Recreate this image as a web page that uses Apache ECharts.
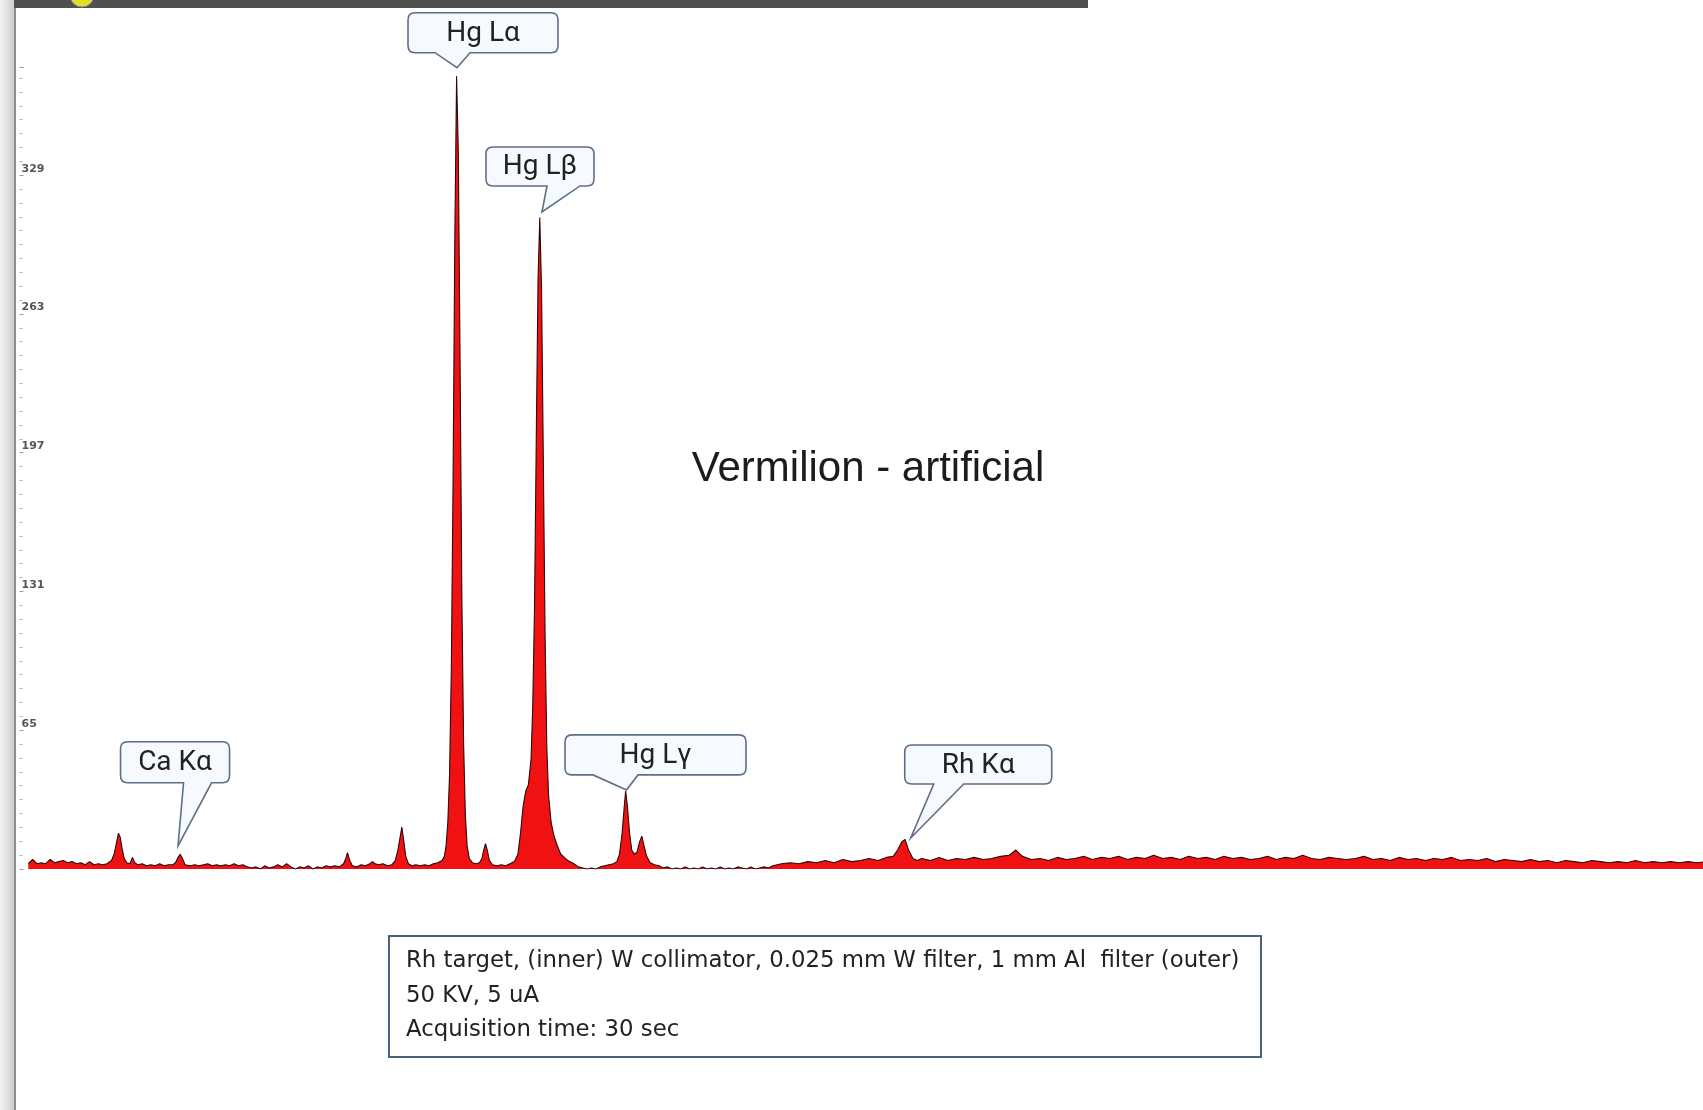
<!DOCTYPE html>
<html>
<head>
<meta charset="utf-8">
<script src="https://cdn.jsdelivr.net/npm/echarts@6/dist/echarts.min.js"></script>
<style>
html,body{margin:0;padding:0;background:#ffffff;}
#chart{width:1703px;height:1110px;}
</style>
</head>
<body>
<div id="chart"></div>
<script>
// ---------------- DATA (energy in keV, counts) ----------------
// 0.2 – 9.55 keV : S K, Ca Kα, Ni Kα, Hg Ll
const spectrumLow = [
  [0.20,2.5],[0.30,4.5],[0.40,2.5],[0.50,3],[0.60,2.5],[0.70,4.5],[0.80,3],[0.90,3.5],[1.00,4],[1.10,3],
  [1.20,3.5],[1.30,2.5],[1.40,3],[1.50,2],[1.60,3.5],[1.70,2],[1.80,2.5],[1.90,2],[2.00,2.5],
  [2.10,4],[2.16,7],[2.21,12],[2.26,17],[2.30,15],[2.34,10],[2.39,5],[2.45,3],[2.52,2.5],[2.58,5.5],
  [2.63,3],[2.70,2],[2.80,2.5],[2.90,1.5],[3.00,2],[3.10,1.5],[3.20,2.5],[3.30,1.5],[3.40,2],[3.50,2],
  [3.56,3],[3.62,5.5],[3.67,7],[3.72,5],[3.78,2],[3.90,1.5],[4.00,2],[4.10,1.5],[4.20,2],[4.30,2.5],
  [4.40,1.5],[4.50,2],[4.60,1.5],[4.70,2],[4.80,1.5],[4.90,2.5],[5.00,1.5],[5.10,2],[5.20,1],[5.30,0.5],
  [5.40,1],[5.50,0],[5.60,1.5],[5.70,0.5],[5.80,1],[5.90,2],[6.00,1],[6.10,2.5],[6.20,1],[6.30,0],
  [6.40,1],[6.50,0.5],[6.60,1.5],[6.70,0],[6.80,1],[6.90,0.5],[7.00,1.5],[7.10,1],[7.20,1.5],[7.30,1],
  [7.40,2.5],[7.45,5],[7.49,7.8],[7.54,4],[7.60,1.5],[7.70,1],[7.80,2],[7.90,1.5],[8.00,2.5],[8.06,3.5],
  [8.12,2.5],[8.20,2],[8.30,2.5],[8.40,1.5],[8.50,2],
  [8.58,4],[8.64,9],[8.69,15],[8.73,19.9],[8.77,14],[8.82,6],[8.88,2.5],[8.96,1.5],[9.05,2],[9.15,1.5],
  [9.25,2],[9.35,1.5],[9.45,2.5],[9.55,3]
];
// 9.65 – 17.3 keV : Hg Lα, Lη, Lβ, Lγ
const spectrumHgL = [
  [9.65,4],[9.70,6],[9.74,11],[9.78,22],[9.82,45],[9.86,95],[9.90,185],[9.94,300],[9.98,376],[10.02,340],
  [10.06,240],[10.10,130],[10.14,60],[10.18,26],[10.22,11],[10.27,5],[10.34,3],[10.42,2.5],[10.50,3],
  [10.56,5],[10.60,9],[10.64,12],[10.68,9],[10.73,4],[10.80,2],[10.90,1.5],[11.00,2],[11.10,1.5],[11.20,2.5],
  [11.30,3.5],[11.38,7],[11.44,17],[11.50,30],[11.56,37],[11.62,40],[11.68,52],[11.72,78],[11.76,125],[11.80,205],
  [11.84,280],[11.88,309],[11.92,275],[11.96,195],[12.00,112],[12.04,58],[12.08,35],[12.14,22],[12.20,16],[12.28,11],
  [12.36,7],[12.46,5],[12.56,3.5],[12.66,2.5],[12.76,1],[12.86,0.5],[12.96,0],[13.06,0.5],[13.16,0],[13.26,1],
  [13.36,1.5],[13.46,2],[13.56,2.5],[13.64,3.5],
  [13.70,7],[13.76,17],[13.81,30],[13.84,37],[13.88,30],[13.93,17],[13.98,9],[14.04,7],[14.10,8],[14.16,13],
  [14.21,15.6],[14.26,11],[14.32,6],[14.40,3],[14.50,2],[14.60,1.5],[14.70,0.5],[14.80,1],[14.90,0],[15.00,0.5],
  [15.10,0],[15.20,1],[15.30,0],[15.40,0.5],[15.50,0],[15.60,1],[15.70,0],[15.80,0.5],[15.90,0],[16.00,1],
  [16.10,0],[16.20,0.5],[16.30,0],[16.40,1],[16.50,0.5],[16.60,0],[16.70,1],[16.80,0],[16.90,0.5],[17.00,1],
  [17.10,0.5],[17.20,1.5],[17.30,2]
];
// 17.4 – 38.5 keV : Rh Kα, Rh Kβ and scatter background
const spectrumHigh = [
  [17.40,2.5],[17.60,3],[17.80,2.5],[18.00,3.5],[18.20,3],[18.40,4],[18.60,3],[18.80,4.5],[19.00,3.5],[19.20,4],
  [19.40,5],[19.60,4],[19.80,5.5],[19.95,6],[20.05,9],[20.15,13],[20.22,14],[20.30,9],[20.40,5],[20.50,4],
  [20.60,5],[20.80,4],[21.00,5.5],[21.20,4],[21.40,5],[21.60,4.5],[21.80,5.5],[22.00,4.5],[22.20,5],[22.40,6],
  [22.60,6.5],[22.75,9],[22.90,6],[23.10,4.5],[23.30,5],[23.50,4],[23.70,5.5],[23.90,4.5],[24.10,5],[24.30,6],
  [24.50,4.5],[24.70,5.5],[24.90,5],[25.10,6],[25.30,4.5],[25.50,5.5],[25.70,5],[25.90,6.5],[26.10,5],[26.30,5.5],
  [26.50,4.5],[26.70,6],[26.90,5],[27.10,5.5],[27.30,4.5],[27.50,6],[27.70,5],[27.90,5.5],[28.10,4.5],[28.30,5],
  [28.50,6],[28.70,4.5],[28.90,5.5],[29.10,5],[29.30,6.5],[29.50,5],[29.70,4.5],[29.90,5.5],[30.10,5],[30.30,4.5],
  [30.50,5],[30.70,6],[30.90,4.5],[31.10,5],[31.30,4],[31.50,5.5],[31.70,4.5],[31.90,5],[32.10,4],[32.30,5],
  [32.50,4.5],[32.70,5.5],[32.90,4],[33.10,4.5],[33.30,4],[33.50,5],[33.70,3.5],[33.90,4.5],[34.10,4],[34.30,3.5],
  [34.50,4.5],[34.70,3.5],[34.90,4],[35.10,3],[35.30,4],[35.50,3.5],[35.70,3],[35.90,4],[36.10,3.5],[36.30,3],
  [36.50,3.5],[36.70,3],[36.90,4],[37.10,3],[37.30,3.5],[37.50,3],[37.70,3.5],[37.90,3],[38.10,3.5],[38.30,3],[38.50,3.5]
];

const yTickStep = 65.8;
const yTickLabels = [65, 131, 197, 263, 329];

const calloutLabels = ['Ca Kα', 'Hg Lα', 'Hg Lβ', 'Hg Lγ', 'Rh Kα'];
const calloutEnergy = [3.62, 9.99, 11.93, 13.86, 20.35];
const calloutCounts = [11, 380, 311.6, 37.5, 14.7];

const titleText = 'Vermilion - artificial';
const infoLines = [
  'Rh target, (inner) W collimator, 0.025 mm W filter, 1 mm Al  filter (outer)',
  '50 KV, 5 uA',
  'Acquisition time: 30 sec'
];

// ---------------- LAYOUT (pixels, relative to each callout tip) ----------------
const calloutLayout = [
  {dx: -57.5, dy: -104, w: 109, h: 41, b1: 63, b2: 91},
  {dx: -49,   dy: -55,  w: 150, h: 40, b1: 27, b2: 62},
  {dx: -56,   dy: -65,  w: 108, h: 39, b1: 61, b2: 94},
  {dx: -61.5, dy: -55,  w: 181, h: 40, b1: 28, b2: 73},
  {dx: -6,    dy: -93,  w: 147, h: 39, b1: 29, b2: 59}
];

const spectrum = spectrumLow.concat(spectrumHgL, spectrumHigh);

const chart = echarts.init(document.getElementById('chart'), null, {renderer: 'canvas'});

const infoFont = '22.8px "DejaVu Sans", sans-serif';

const option = {
  animation: false,
  backgroundColor: '#ffffff',
  grid: {left: 19.5, right: 0, top: 67.7, bottom: 241, containLabel: false},
  xAxis: {
    type: 'value', min: 0, max: 38.44,
    show: false
  },
  yAxis: {
    type: 'value', min: 0, max: 380, interval: yTickStep,
    offset: 4,
    axisLine: {show: false},
    splitLine: {show: false},
    axisTick: {show: true, inside: true, length: 4, lineStyle: {color: '#9a9a9a', width: 1}},
    minorTick: {show: true, splitNumber: 10, length: 3, lineStyle: {color: '#b5b5b5', width: 1}},
    axisLabel: {
      inside: true, margin: 6, showMinLabel: false, showMaxLabel: false,
      fontSize: 11, fontFamily: 'DejaVu Sans', fontWeight: 'bold', color: '#555555',
      verticalAlign: 'bottom', padding: [0, 0, 1, 0],
      formatter: function (v) {
        const k = Math.round(v / yTickStep);
        return (k >= 1 && k <= yTickLabels.length) ? String(yTickLabels[k - 1]) : '';
      }
    }
  },
  graphic: {
    elements: [
      {type: 'rect', z: 100,
        shape: {x: 0, y: 0, width: 14, height: 1110},
        style: {fill: new echarts.graphic.LinearGradient(0, 0, 1, 0, [
          {offset: 0, color: '#f3f3f3'}, {offset: 1, color: '#cdcdcd'}])}},
      {type: 'rect', z: 101, shape: {x: 14, y: 0, width: 2, height: 1110}, style: {fill: '#8e8e8e'}},
      {type: 'rect', z: 101, shape: {x: 14, y: 0, width: 1074, height: 8}, style: {fill: '#505050'}},
      {type: 'circle', z: 102, shape: {cx: 82, cy: -5, r: 12}, style: {fill: '#e6df26', stroke: '#8a7fb0', lineWidth: 1}},
      {type: 'text', z: 50, x: 868, y: 469,
        style: {text: titleText, font: '42px "Liberation Sans", Arial, sans-serif', fill: '#1c1c1c',
          align: 'center', verticalAlign: 'middle'}},
      {type: 'rect', z: 50, shape: {x: 389, y: 936, width: 872, height: 121},
        style: {fill: '#ffffff', stroke: '#4b5f7e', lineWidth: 2}},
      {type: 'text', z: 51, x: 406, y: 961,
        style: {text: infoLines[0], font: infoFont, fill: '#222', verticalAlign: 'middle'}},
      {type: 'text', z: 51, x: 406, y: 996,
        style: {text: infoLines[1], font: infoFont, fill: '#222', verticalAlign: 'middle'}},
      {type: 'text', z: 51, x: 406, y: 1030,
        style: {text: infoLines[2], font: infoFont, fill: '#222', verticalAlign: 'middle'}}
    ]
  },
  series: [
    {
      type: 'line',
      data: spectrum,
      showSymbol: false,
      symbol: 'none',
      smooth: false,
      lineStyle: {color: '#2e0606', width: 1.1},
      areaStyle: {color: '#f01212', opacity: 1},
      z: 2
    },
    {
      type: 'custom',
      clip: false,
      silent: true,
      z: 10,
      data: calloutLabels.map(function (l, i) { return [calloutEnergy[i], calloutCounts[i], i]; }),
      encode: {x: 0, y: 1},
      renderItem: function (params, api) {
        const i = api.value(2);
        const p = api.coord([api.value(0), api.value(1)]);
        const L = calloutLayout[i];
        const x = p[0] + L.dx, y = p[1] + L.dy, w = L.w, h = L.h, r = 7;
        const b1 = x + L.b1, b2 = x + L.b2;
        const d = 'M' + (x + r) + ',' + y +
          ' L' + (x + w - r) + ',' + y +
          ' Q' + (x + w) + ',' + y + ' ' + (x + w) + ',' + (y + r) +
          ' L' + (x + w) + ',' + (y + h - r) +
          ' Q' + (x + w) + ',' + (y + h) + ' ' + (x + w - r) + ',' + (y + h) +
          ' L' + b2 + ',' + (y + h) +
          ' L' + p[0] + ',' + p[1] +
          ' L' + b1 + ',' + (y + h) +
          ' L' + (x + r) + ',' + (y + h) +
          ' Q' + x + ',' + (y + h) + ' ' + x + ',' + (y + h - r) +
          ' L' + x + ',' + (y + r) +
          ' Q' + x + ',' + y + ' ' + (x + r) + ',' + y + ' Z';
        return {
          type: 'group',
          children: [
            {type: 'path', shape: {pathData: d}, style: {fill: '#f6f9fd', stroke: '#5d6f88', lineWidth: 1.6}},
            {type: 'text', x: x + w / 2, y: y + h / 2 + 1,
              style: {text: calloutLabels[i], font: '28px Roboto, "DejaVu Sans", sans-serif', fill: '#222',
                align: 'center', verticalAlign: 'middle'}}
          ]
        };
      }
    }
  ]
};

chart.setOption(option);
</script>
</body>
</html>
